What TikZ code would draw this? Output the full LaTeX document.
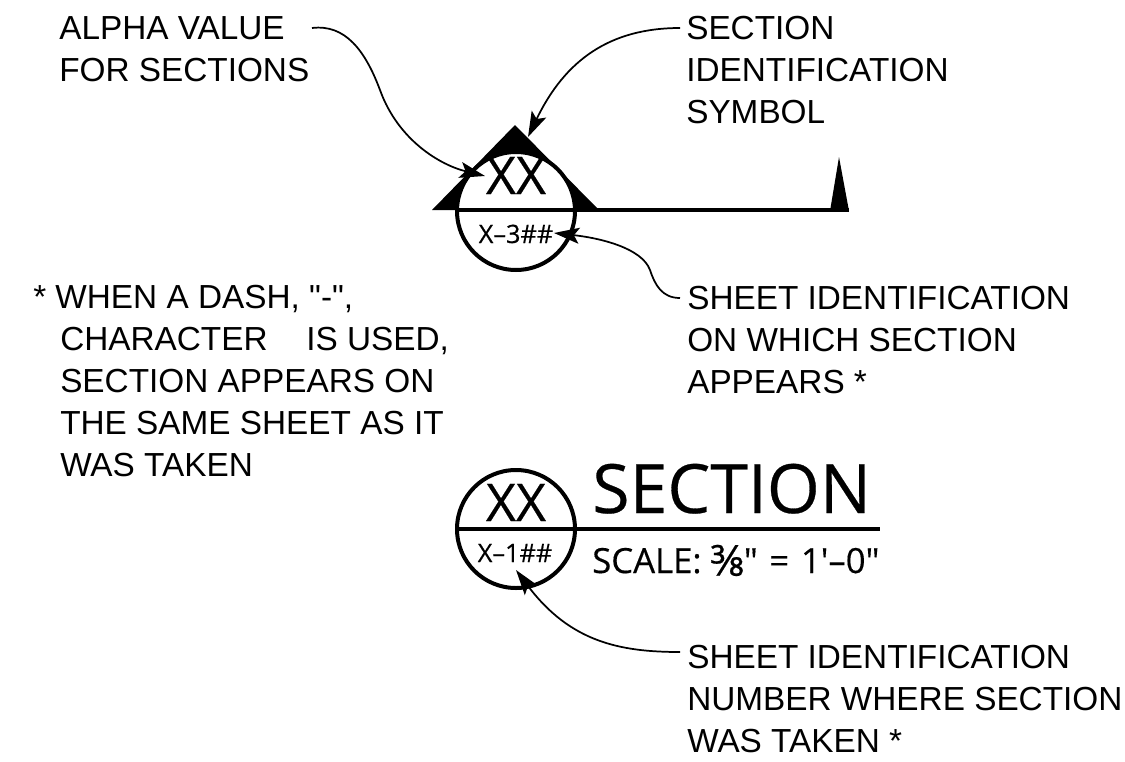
\documentclass[tikz,border=0pt]{standalone}
\usepackage{fontspec}
\newfontfamily\notefont{Liberation Sans}
\newfontfamily\symfont[FakeBold=0.4]{Open Sans}
\usetikzlibrary{arrows.meta}
\tikzset{
  x=0.75pt,y=-0.75pt,
  note/.style={anchor=base west,inner sep=0pt,align=left,font=\notefont\fontsize{25}{31.5}\selectfont},
  heavy/.style={line width=3pt},
  leader/.style={line width=1.3pt,-{Stealth[length=19pt,width=12pt,inset=4pt]}},
  symxx/.style={inner sep=0pt,anchor=base,font=\symfont\fontsize{39}{39}\selectfont},
  symnum/.style={inner sep=0pt,anchor=base,font=\symfont\fontsize{19}{19}\selectfont},
  bigtitle/.style={inner sep=0pt,anchor=base west,font=\symfont\fontsize{51}{51}\selectfont},
  scaletext/.style={inner sep=0pt,anchor=base west,font=\symfont\fontsize{26}{26}\selectfont},
}
\begin{document}
\begin{tikzpicture}
\useasboundingbox (0,0) rectangle (1125,761);
% upper symbol
\fill (515,125) -- (599,210) -- (432,210) -- cycle;
\fill (839,157) -- (849,211) -- (830,211) -- cycle;
\draw[heavy,fill=white] (516,211) circle (59);
\draw[heavy] (455,209.5) -- (849,209.5);
\node[symxx] (xxa) at (516,194) {XX};
\node[symnum] (numa) at (516,243) {X–3\#\#};
% lower symbol
\draw[heavy] (516,529) circle (59);
\draw[heavy] (455,529) -- (880,529);
\node[symxx] (xxb) at (516,521) {XX};
\node[symnum] (numb) at (515,562) {X–1\#\#};
\node[bigtitle] (title) at (592,513) {SECTION};
\node[scaletext] (scale) at (592,573) {SCALE: {\fontsize{32}{32}\selectfont\raisebox{-2pt}{⅜}}" \hspace{2pt}=\hspace{2pt} 1'–0"};
% notes
\node[note] (alpha) at (59,81) {ALPHA VALUE\\FOR SECTIONS};
\node[note] (ident) at (686,123) {SECTION\\IDENTIFICATION\\SYMBOL};
\node[note] (dash) at (33,476) {* WHEN A DASH, "-",\\
  \hspace*{20.25pt}CHARACTER\hspace{29pt}IS USED,\\
  \hspace*{20.25pt}SECTION APPEARS ON\\
  \hspace*{20.25pt}THE SAME SHEET AS IT\\
  \hspace*{20.25pt}WAS TAKEN};
\node[note] (sheeta) at (687,393) {SHEET IDENTIFICATION\\ON WHICH SECTION\\APPEARS *};
\node[note] (sheetb) at (687,752) {SHEET IDENTIFICATION\\NUMBER WHERE SECTION\\WAS TAKEN *};
% connector ends
\coordinate (alphaout) at (312,28);
\coordinate (alphatip) at (485,176);
\coordinate (identout) at (680,28);
\coordinate (identtip) at (528,137);
\coordinate (sheetaout) at (680,298);
\coordinate (sheetatip) at (554,233);
\coordinate (sheetbout) at (680,652);
\coordinate (sheetbtip) at (516,570);
\draw[leader] (alphaout) .. controls (345,24) and (365,50) .. (380,90) .. controls (398,140) and (440,165) .. (alphatip);
\draw[leader] (identout) .. controls (610,28) and (565,60) .. (identtip);
\draw[leader] (sheetaout) .. controls (662,298) and (655,285) .. (650,270) .. controls (642,248) and (600,238) .. (sheetatip);
\draw[leader] (sheetbout) .. controls (620,652) and (570,642) .. (sheetbtip);
\end{tikzpicture}
\end{document}
